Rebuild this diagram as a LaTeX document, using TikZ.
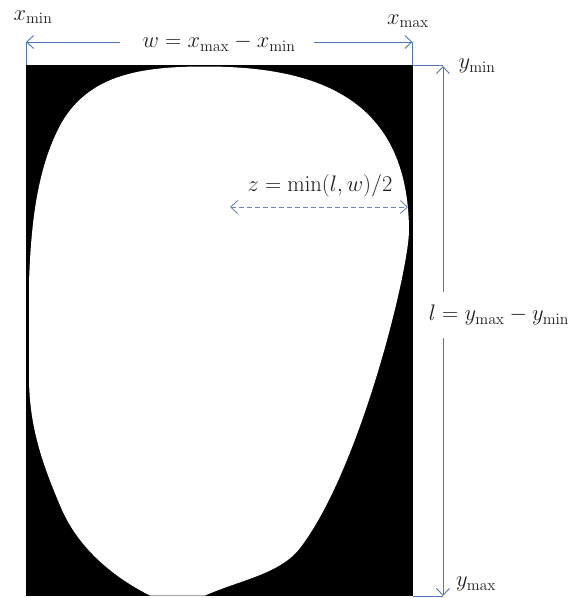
\RequirePackage{fix-cm}
\documentclass[tikz,border=0pt]{standalone}
\usetikzlibrary{arrows.meta}
\definecolor{arrowblue}{RGB}{79,119,180}
\definecolor{dashblue}{RGB}{105,135,185}
\definecolor{labelgray}{RGB}{30,30,30}
\begin{document}
\begin{tikzpicture}[x=1pt,y=-1pt,
  dimline/.style={draw=arrowblue, line width=0.9pt},
  tipend/.style={-{Straight Barb[length=7pt,width=13pt]}},
  lab/.style={text=labelgray, font=\fontsize{22.5}{26}\selectfont, inner sep=1pt},
]
\useasboundingbox (0,0) rectangle (573,598);
% image frame
\coordinate (tl) at (26,65);
\coordinate (tr) at (412.5,65);
\coordinate (br) at (412.5,596);
\coordinate (bl) at (26,596);
\fill[black] (tl) rectangle (br);
\fill[white] (205,66.5)
  .. controls (320,66.5) and (408,100) .. (409,230)
  .. controls (409,270) and (360,470) .. (300,548)
  .. controls (280,574) and (240,580) .. (205,595.5)
  -- (150,595.5)
  .. controls (115,578) and (80,550) .. (62,510)
  .. controls (45,470) and (29,430) .. (29,377)
  -- (29,283)
  .. controls (31,220) and (38,165) .. (62,122)
  .. controls (90,75) and (140,66.5) .. cycle;
% width dimension
\coordinate (wl) at (26,42);
\coordinate (wr) at (412.5,42);
\coordinate (wls) at (120,42);
\coordinate (wrs) at (314,42);
\node[lab] (w) at (219,43) {$w = x_{\max} - x_{\min}$};
\node[lab] (xmin) at (33,17) {$x_{\min}$};
\node[lab] (xmax) at (408,21) {$x_{\max}$};
\draw[dimline, tipend] (wls) -- (wl);
\draw[dimline, tipend] (wrs) -- (wr);
\draw[dimline] (wl) -- (tl);
\draw[dimline] (wr) -- (tr);
% length dimension
\coordinate (lt) at (443,66);
\coordinate (lb) at (443,596);
\coordinate (ltop) at (443,65);
\coordinate (lbot) at (443,596);
\coordinate (lts) at (443,292);
\coordinate (lbs) at (443,338);
\draw[dimline] (tr) -- (ltop);
\draw[dimline] (br) -- (lbot);
\draw[dimline, tipend] (lts) -- (lt);
\draw[dimline, tipend] (lbs) -- (lb);
\node[lab] (l) at (499,315) {$l = y_{\max} - y_{\min}$};
\node[lab] (ymin) at (477,66) {$y_{\min}$};
\node[lab] (ymax) at (476,584) {$y_{\max}$};
% z
\node[lab] (z) at (320,186) {$z = \min(l, w)/2$};
\coordinate (za) at (230,207);
\coordinate (zb) at (408,207);
\draw[draw=dashblue, line width=0.9pt, dash pattern=on 5pt off 3pt,
  {Straight Barb[length=7pt,width=13pt]}-{Straight Barb[length=7pt,width=13pt]}] (za) -- (zb);
\end{tikzpicture}
\end{document}
